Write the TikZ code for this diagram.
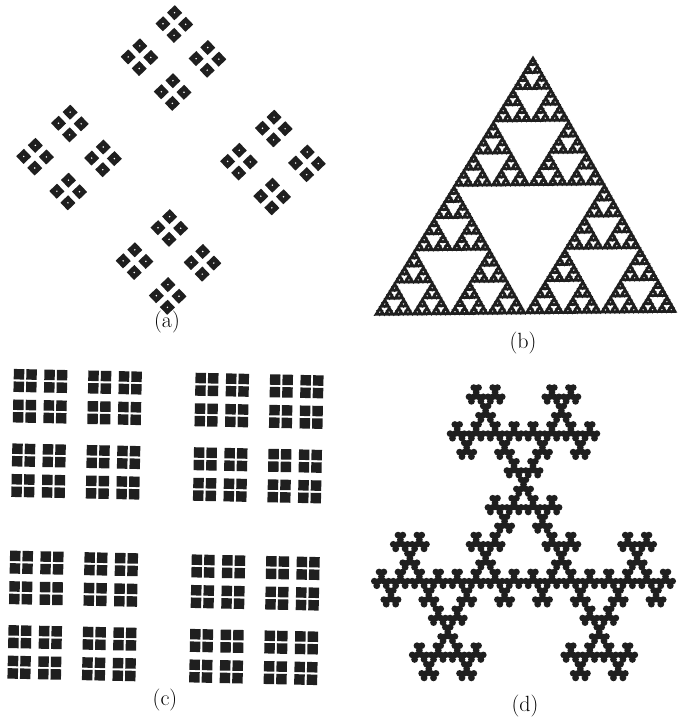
\documentclass[tikz,border=0pt]{standalone}

\begin{document}
\begin{tikzpicture}[
  x=1pt,y=-1pt,
  ink/.style={fill=black!88},
  hole/.style={fill=white,draw=black!88,line width=1.5pt},
  pinhole/.style={fill=white},
  caption/.style={font=\fontsize{22}{24}\selectfont,inner sep=0pt}
]
\newcommand{\diamondset}[1]{%
  \ifnum#1>0
    \foreach \dx/\dy in {0/-1,-1/0,1/0,0/1}{%
      \begin{scope}[shift={(\dx,\dy)},scale=1/3]\diamondset{\numexpr#1-1\relax}\end{scope}}%
  \else
    \fill[ink,rounded corners=0.2] (0,-2) -- (2,0) -- (0,2) -- (-2,0) -- cycle;
    \fill[pinhole] (0,0) circle (0.22);
  \fi}
\newcommand{\gasket}[1]{%
  \ifnum#1>0
    \filldraw[hole] (0.5,0) -- (0.75,0.5) -- (0.25,0.5) -- cycle;
    \begin{scope}[scale=0.5]\gasket{\numexpr#1-1\relax}\end{scope}
    \begin{scope}[shift={(0.5,0)},scale=0.5]\gasket{\numexpr#1-1\relax}\end{scope}
    \begin{scope}[shift={(0.25,0.5)},scale=0.5]\gasket{\numexpr#1-1\relax}\end{scope}
  \fi}
\newcommand{\dust}[1]{%
  \ifnum#1>0
    \foreach \sx/\sy in {-0.295/-0.295,0.295/-0.295,-0.295/0.295,0.295/0.295}{%
      \begin{scope}[shift={(\sx,\sy)},scale=0.41]\dust{\numexpr#1-1\relax}\end{scope}}%
  \else
    \fill[ink] (-0.6,-0.6) rectangle (0.6,0.6);
  \fi}
\newcommand{\trefoil}[1]{%
  \ifnum#1>0
    \foreach \px/\py in {0.75/0.5,0.5/1,1/1}{%
      \begin{scope}[shift={(\px,\py)},scale=-0.5]\trefoil{\numexpr#1-1\relax}\end{scope}}%
  \else
    \fill[ink] (0.5,0.5556) circle (0.72);
  \fi}
\useasboundingbox (0,0) rectangle (678,719);
% ================= (a): diamond clusters =================
\begin{scope}[shift={(171,160)},rotate=-1.4,scale=102]
\diamondset{3}
\end{scope}
\node[caption] (la) at (167,322) {(a)};
% ================= (b): gasket =================
\begin{scope}[shift={(375,315)},x={(301pt,3pt)},y={(7.5pt,256.5pt)}]
\filldraw[ink,draw=black!88,line width=1.5pt] (0,0) -- (1,0) -- (0.5,1) -- cycle;
\gasket{6}
\end{scope}
\node[caption] (lb) at (523,343) {(b)};
% ================= (c): square dust =================
\begin{scope}[shift={(165.5,527)},rotate=-1.2,scale=308]
\dust{4}
\end{scope}
\node[caption] (lc) at (165,700) {(c)};
% ================= (d): twisted gasket =================
\begin{scope}[shift={(372,385)},x=303pt,y=-295pt]
\trefoil{6}
\end{scope}
\node[caption] (ld) at (525,706) {(d)};
\end{tikzpicture}
\end{document}
